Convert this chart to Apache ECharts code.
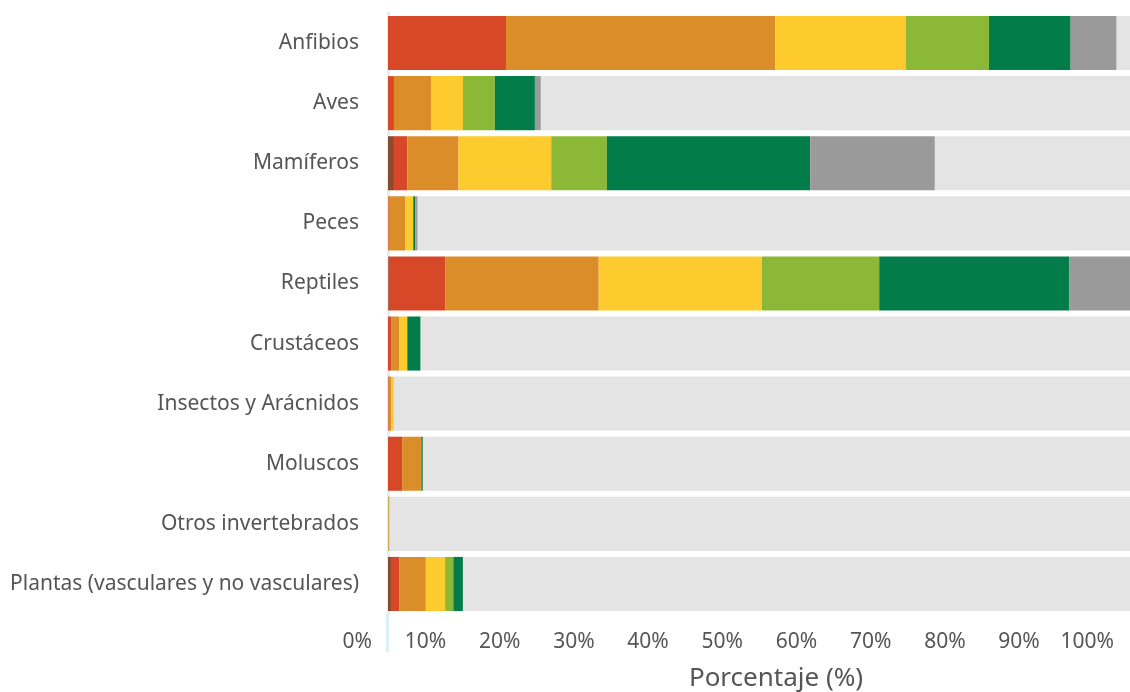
<!DOCTYPE html>
<html>
<head>
<meta charset="utf-8">
<script src="https://cdn.jsdelivr.net/npm/echarts@6/dist/echarts.min.js"></script>
<style>
html,body{margin:0;padding:0;background:#fff;}
#chart{width:1130px;height:692px;}
</style>
</head>
<body>
<div id="chart"></div>
<script>
const categories = ["Anfibios","Aves","Mamíferos","Peces","Reptiles","Crustáceos","Insectos y Arácnidos","Moluscos","Otros invertebrados","Plantas (vasculares y no vasculares)"];
const tickLabels = ["0%","10%","20%","30%","40%","50%","60%","70%","80%","90%","100%"];
const seriesNames = ["Extinta","En peligro crítico","En peligro","Vulnerable","Casi amenazada","Preocupación menor","Datos insuficientes","No evaluada"];
const extinta       = [0,   0,   0.8, 0,   0.1, 0,   0,   0,   0,   0.4];
const peligroCrit   = [15.9,0.8, 1.8, 0.1, 7.6, 0.4, 0.1, 1.9, 0,   1.1];
const peligro       = [36.3,5.0, 6.9, 2.2, 20.7,1.1, 0.3, 2.6, 0.1, 3.6];
const vulnerable    = [17.6,4.3, 12.5,1.1, 22.0,1.1, 0.4, 0,   0,   2.6];
const casiAmenazada = [11.2,4.3, 7.5, 0,   15.8,0,   0,   0,   0.1, 1.1];
const preocMenor    = [11.0,5.4, 27.4,0.3, 25.6,1.8, 0,   0.2, 0,   1.3];
const datosInsuf    = [6.2, 0.8, 16.8,0.3, 8.2, 0,   0,   0,   0,   0];
const noEvaluada    = [1.8, 79.4,26.3,96.0,0,   95.6,99.2,95.3,99.8,89.9];
const seriesData = [extinta,peligroCrit,peligro,vulnerable,casiAmenazada,preocMenor,datosInsuf,noEvaluada];
const colors = ["#8B4A2B","#D64827","#DB8D29","#FDCB2D","#8BB836","#027D4A","#9A9A9A","#E4E4E4"];

const chart = echarts.init(document.getElementById('chart'));
const FONT = '"Noto Sans", "Open Sans", sans-serif';
chart.setOption({
  animation: false,
  backgroundColor: '#fff',
  grid: {left: 388, right: 0, top: 13, bottom: 78, containLabel: false, outerBoundsMode: 'none'},
  xAxis: {
    type: 'value', min: 0, max: 100, interval: 10,
    axisLine: {show: false}, axisTick: {show: false}, splitLine: {show: false},
    axisLabel: {
      formatter: v => tickLabels[Math.round(v/10)],
      color: '#555', fontSize: 21, fontFamily: FONT, margin: 18,
      align: 'right', padding: [0, 16, 0, 0]
    },
    name: 'Porcentaje (%)', nameLocation: 'middle', nameGap: 52,
    nameTextStyle: {color: '#555', fontSize: 26, fontFamily: FONT, padding: [0,0,0,34]}
  },
  yAxis: {
    type: 'category', data: categories, inverse: true,
    axisLine: {show: true, lineStyle: {color: '#DDF0F7', width: 3}},
    axisTick: {show: false},
    axisLabel: {color: '#555', fontSize: 21, fontFamily: FONT, margin: 29}
  },
  graphic: [{type: 'rect', left: 386, top: 614, shape: {width: 3, height: 38}, style: {fill: '#DDF0F7'}, z: -1}],
  series: seriesNames.map((n, i) => ({
    name: n, type: 'bar', stack: 'total', data: seriesData[i],
    barCategoryGap: '10%',
    itemStyle: {color: colors[i]},
    emphasis: {disabled: true}
  }))
});
</script>
</body>
</html>
